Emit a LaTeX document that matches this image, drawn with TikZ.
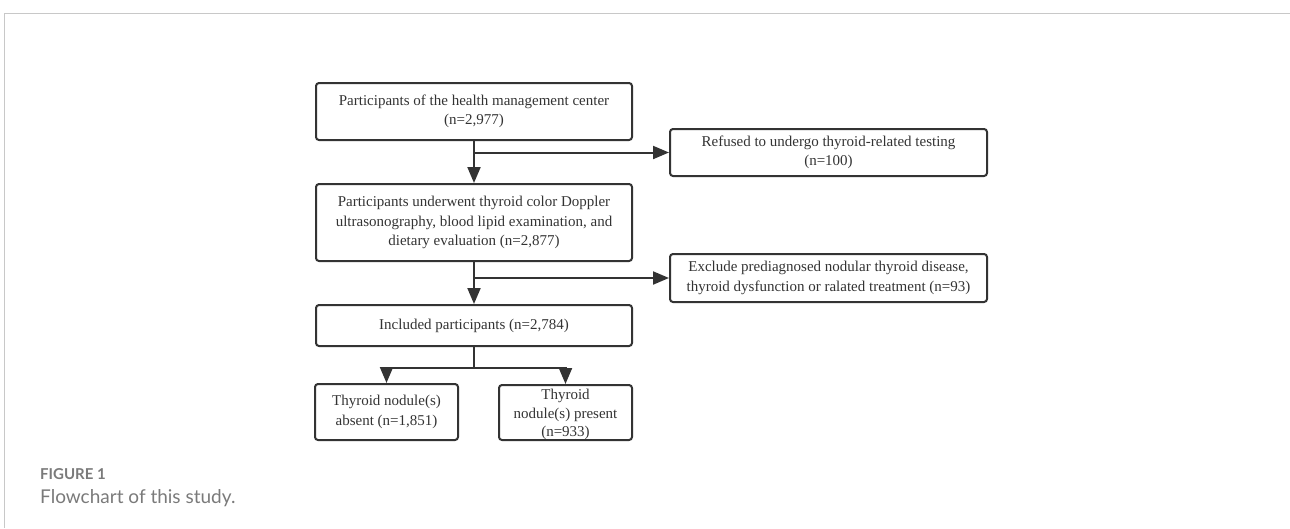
\documentclass[tikz,border=0pt]{standalone}
\usepackage{fontspec}
\usepackage{tikz}
\usetikzlibrary{arrows.meta, positioning, shapes}

\newfontfamily\boxfont{Liberation Serif}
\newfontfamily\capfont{Lato}
\definecolor{boxgray}{HTML}{333333}
\definecolor{framegray}{HTML}{C8C8C8}
\definecolor{capgray}{HTML}{7A7A7A}

\tikzset{
    flowbox/.style={draw=boxgray, line width=2pt, rounded corners=3pt, align=center,
        inner sep=0pt, text=boxgray, font=\boxfont\fontsize{15}{19.5}\selectfont},
    flowtext/.style={align=center, inner sep=0pt, text=boxgray,
        font=\boxfont\fontsize{15}{18.5}\selectfont},
    flowarrow/.style={draw=boxgray, line width=2pt, -{Triangle[length=16pt, width=13pt]}},
}

\begin{document}
\begin{tikzpicture}[x=1pt, y=-1pt]
    \useasboundingbox (0,0) rectangle (1290,528);
    \draw[framegray, line width=1pt] (1290,13) -- (4,13) -- (4,528);

    \node[flowbox, minimum width=316pt, minimum height=57pt] (start) at (474,111.5)
        {Participants of the health management center\\(n=2,977)};
    \node[flowbox, minimum width=316pt, minimum height=77pt] (exam) [below=42pt of start]
        {Participants underwent thyroid color Doppler\\ultrasonography, blood lipid examination, and\\dietary evaluation (n=2,877)};
    \node[flowbox, minimum width=316pt, minimum height=41pt] (incl) [below=42pt of exam]
        {Included participants (n=2,784)};

    \node[flowbox, minimum width=317pt, minimum height=47pt] (refused) at (828.5,152.5)
        {Refused to undergo thyroid-related testing\\(n=100)};
    \node[flowbox, minimum width=317pt, minimum height=48pt] (excl) at (828.5,278)
        {Exclude prediagnosed nodular thyroid disease,\\thyroid dysfunction or ralated treatment (n=93)};

    \node[flowbox, minimum width=143pt, minimum height=56pt] (absent) at (386.5,412)
        {Thyroid nodule(s)\\absent (n=1,851)};
    \node[flowbox, minimum width=133pt, minimum height=55pt] (present) at (565.5,412.5) {};
    \node[flowtext] (presenttxt) at ([yshift=-2pt]present.center)
        {Thyroid\\nodule(s) present\\(n=933)};

    % main line with side exits
    \draw[flowarrow] (start) -- (exam);
    \draw[flowarrow] (start.south |- refused.west) -- (refused.west);
    \draw[flowarrow] (exam) -- (incl);
    \draw[flowarrow] (exam.south |- excl.west) -- (excl.west);

    % split into two groups
    \coordinate (split) at ([yshift=-21pt]incl.south);
    \draw[boxgray, line width=2pt] (incl) -- (split);
    \draw[flowarrow] (split) -| (absent);
    \draw[flowarrow] (split) -| (present);

    \node[anchor=base west, inner sep=0pt, text=capgray, font=\capfont\bfseries\fontsize{15}{17}\selectfont]
        (fignum) at (40,479) {FIGURE 1};
    \node[anchor=base west, inner sep=0pt, text=capgray, font=\capfont\fontsize{19}{21}\selectfont]
        (figcap) at (40,503) {Flowchart of this study.};
\end{tikzpicture}
\end{document}
